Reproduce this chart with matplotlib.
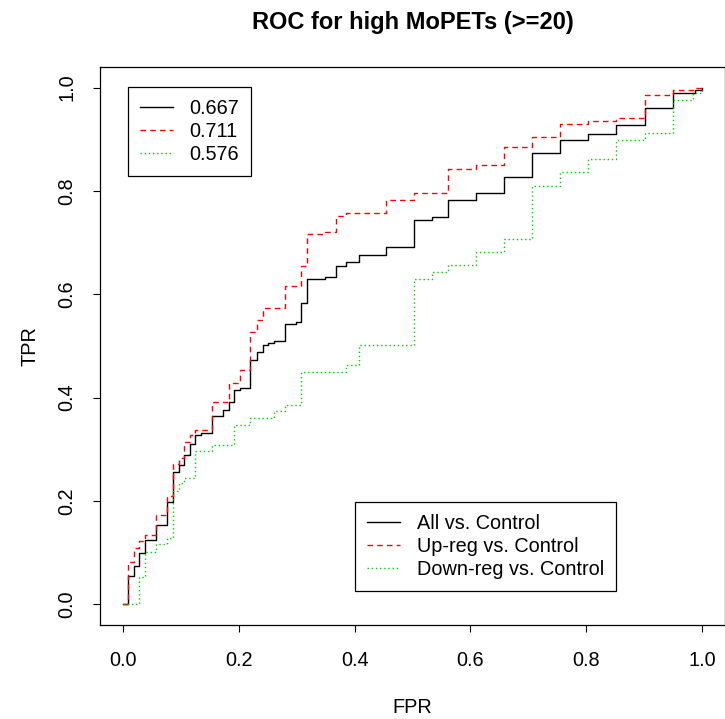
import matplotlib
matplotlib.use('Agg')
import matplotlib.pyplot as plt

plt.rcParams['font.family'] = ['Liberation Sans', 'DejaVu Sans']

# ROC curves (step points: fpr, tpr after the step)
fpr_all = [0, 0.008, 0.018, 0.028, 0.038, 0.057, 0.076, 0.086, 0.096, 0.105, 0.116,
           0.125, 0.135, 0.153, 0.173, 0.183, 0.192, 0.202, 0.220, 0.231, 0.241, 0.251,
           0.261, 0.280, 0.298, 0.308, 0.318, 0.348, 0.367, 0.385, 0.407, 0.454, 0.503,
           0.533, 0.561, 0.610, 0.658, 0.706, 0.755, 0.804, 0.852, 0.901, 0.950, 0.988, 1.0]
tpr_all = [0, 0.055, 0.075, 0.100, 0.124, 0.153, 0.199, 0.256, 0.269, 0.289, 0.311,
           0.327, 0.332, 0.365, 0.377, 0.391, 0.415, 0.419, 0.472, 0.489, 0.502, 0.506,
           0.509, 0.543, 0.546, 0.584, 0.630, 0.633, 0.654, 0.663, 0.676, 0.692, 0.743,
           0.749, 0.783, 0.796, 0.828, 0.874, 0.899, 0.911, 0.927, 0.961, 0.990, 0.996, 1.0]

fpr_up = [0, 0.008, 0.018, 0.028, 0.038, 0.057, 0.076, 0.086, 0.096, 0.105, 0.116,
          0.125, 0.153, 0.183, 0.202, 0.220, 0.231, 0.241, 0.280, 0.308, 0.318, 0.348,
          0.367, 0.385, 0.454, 0.503, 0.561, 0.610, 0.658, 0.706, 0.755, 0.804, 0.852,
          0.901, 0.950, 0.990, 1.0]
tpr_up = [0, 0.081, 0.110, 0.122, 0.135, 0.172, 0.209, 0.271, 0.284, 0.314, 0.327,
          0.338, 0.392, 0.429, 0.453, 0.527, 0.551, 0.574, 0.617, 0.654, 0.716, 0.720,
          0.752, 0.758, 0.783, 0.796, 0.843, 0.850, 0.886, 0.905, 0.930, 0.935, 0.941,
          0.985, 0.996, 1.0, 1.0]

fpr_down = [0, 0.028, 0.038, 0.057, 0.076, 0.086, 0.096, 0.105, 0.125, 0.153, 0.192,
            0.220, 0.261, 0.280, 0.308, 0.385, 0.407, 0.503, 0.533, 0.561, 0.610, 0.658,
            0.706, 0.755, 0.804, 0.852, 0.901, 0.950, 0.985, 1.0]
tpr_down = [0, 0.052, 0.101, 0.116, 0.128, 0.219, 0.235, 0.245, 0.297, 0.308, 0.347,
            0.360, 0.374, 0.386, 0.450, 0.463, 0.502, 0.630, 0.643, 0.656, 0.681, 0.707,
            0.809, 0.836, 0.861, 0.899, 0.912, 0.977, 0.990, 1.0]

auc_labels = ['0.667', '0.711', '0.576']
group_labels = ['All vs. Control', 'Up-reg vs. Control', 'Down-reg vs. Control']
ticks = [0.0, 0.2, 0.4, 0.6, 0.8, 1.0]

FS = 14.3

fig = plt.figure(figsize=(7.25, 7.19), dpi=100)
ax = fig.add_axes([100 / 725, 94 / 719, 625 / 725, 558 / 719])

h1, = ax.plot(fpr_all, tpr_all, drawstyle='steps-post', color='black', lw=1.0)
h2, = ax.plot(fpr_up, tpr_up, drawstyle='steps-post', color='#ff0000', lw=1.0,
              dashes=(4, 3))
h3, = ax.plot(fpr_down, tpr_down, drawstyle='steps-post', color='#00cc00', lw=1.0,
              dashes=(1, 2))

ax.set_xlim(-0.04, 1.04)
ax.set_ylim(-0.04, 1.04)
ax.set_xticks(ticks)
ax.set_yticks(ticks)
ax.set_xticklabels(['%.1f' % t for t in ticks])
ax.set_yticklabels(['%.1f' % t for t in ticks], rotation=90, va='center')
ax.tick_params(direction='out', length=5, width=0.8, labelsize=FS)
ax.tick_params(axis='x', pad=14)
ax.tick_params(axis='y', pad=12)
for s in ax.spines.values():
    s.set_linewidth(0.9)

ax.set_xlabel('FPR', fontsize=FS, labelpad=20)
ax.set_ylabel('TPR', fontsize=FS, labelpad=13)
ax.set_title('ROC for high MoPETs (>=20)', fontsize=17, fontweight='bold', pad=27)

leg_kw = dict(fontsize=FS, frameon=True, fancybox=False, edgecolor='black',
              framealpha=1, handlelength=1.65, handletextpad=0.85,
              labelspacing=0.2, borderpad=0.6, borderaxespad=0)
leg1 = ax.legend([h1, h2, h3], auc_labels, loc='upper left',
                 bbox_to_anchor=(128 / 725, 1 - 87 / 719),
                 bbox_transform=fig.transFigure, **leg_kw)
leg1.get_frame().set_linewidth(0.9)
ax.add_artist(leg1)
leg2 = ax.legend([h1, h2, h3], group_labels, loc='upper left',
                 bbox_to_anchor=(355 / 725, 1 - 502 / 719),
                 bbox_transform=fig.transFigure, **leg_kw)
leg2.get_frame().set_linewidth(0.9)

fig.savefig('out.png', dpi=100)
